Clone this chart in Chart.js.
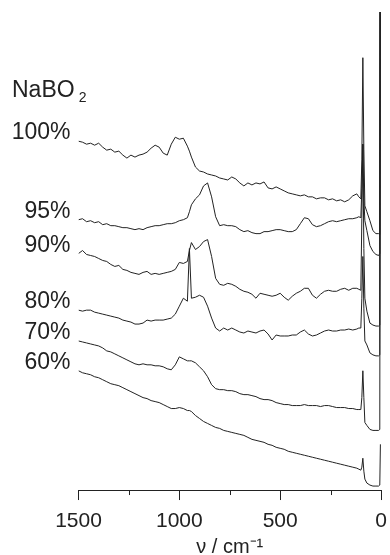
<!DOCTYPE html>
<html lang="en">

<head>
    <meta charset="UTF-8">
    <script src="https://cdn.jsdelivr.net/npm/chart.js"></script>
    <title>NaBO2 Raman</title>
    <style>
        body { margin: 0; background: #fff; }
    </style>
</head>

<body>
    <canvas id="myChart" width="390" height="555"></canvas>

    <script>
        // wavenumbers (cm-1), same grid for every spectrum
        const wavenumbers = [1500, 1480, 1460, 1440, 1420, 1400, 1380, 1360, 1340, 1320,
            1300, 1280, 1260, 1240, 1220, 1200, 1180, 1160, 1140, 1120,
            1100, 1080, 1060, 1040, 1020, 1000, 980, 960, 950, 940,
            920, 900, 880, 860, 840, 820, 800, 780, 760, 740,
            720, 700, 680, 660, 640, 620, 600, 580, 560, 540,
            520, 500, 480, 460, 440, 420, 400, 380, 360, 340,
            320, 300, 280, 260, 240, 220, 200, 180, 160, 140,
            120, 110, 100, 95, 90, 85, 80, 70, 55, 40,
            25, 12, 6, 3];

        // intensities, offset per composition (arbitrary units)
        const i100 = [358, 357, 355, 356, 354, 356, 352, 349, 350, 347,
            348, 344, 341, 344, 342, 344, 345, 347, 351, 354,
            352, 346, 344, 355, 362, 360, 361, 353, 348, 342,
            332, 328, 327, 325, 324, 323, 321, 320, 319, 322,
            320, 316, 313, 316, 314, 316, 315, 317, 311, 310,
            312, 310, 308, 306, 305, 304, 303, 304, 302, 302,
            300, 301, 301, 299, 300, 298, 299, 297, 299, 303,
            305, 302, 300, 340, 442, 350, 293, 287, 278, 268,
            265, 265, 264, 700];
        const i95 = [279, 280, 277, 278, 276, 277, 274, 275, 273, 273,
            272, 271, 271, 270, 269, 270, 269, 271, 272, 273,
            273, 274, 275, 275, 276, 278, 279, 281, 287, 294,
            300, 304, 313, 316, 302, 282, 273, 274, 273, 273,
            272, 269, 267, 268, 266, 265, 265, 267, 267, 268,
            269, 269, 268, 267, 267, 269, 275, 281, 280, 274,
            272, 273, 275, 277, 278, 277, 278, 279, 280, 280,
            281, 282, 281, 310, 355, 300, 278, 268, 253, 247,
            244, 243, 245, 700];
        const i90 = [245, 248, 244, 243, 242, 240, 238, 237, 234, 232,
            233, 229, 228, 226, 225, 224, 226, 227, 224, 225,
            224, 225, 226, 227, 229, 236, 235, 237, 248, 256,
            249, 252, 257, 259, 242, 220, 214, 213, 215, 214,
            212, 209, 207, 206, 204, 200, 205, 204, 203, 202,
            203, 205, 201, 198, 202, 205, 207, 210, 210, 203,
            200, 204, 207, 208, 207, 207, 209, 210, 208, 210,
            210, 209, 208, 280, 355, 250, 200, 187, 175, 173,
            172, 172, 173, 700];
        const i80 = [188, 187, 188, 188, 186, 185, 184, 183, 182, 181,
            180, 178, 177, 176, 174, 174, 175, 178, 177, 178,
            178, 178, 179, 180, 184, 192, 200, 197, 250, 200,
            201, 203, 201, 192, 180, 170, 167, 170, 168, 170,
            168, 166, 165, 167, 166, 165, 167, 168, 164, 158,
            163, 162, 162, 162, 163, 163, 166, 168, 164, 162,
            163, 165, 167, 168, 167, 167, 168, 168, 169, 168,
            169, 170, 170, 200, 242, 190, 157, 153, 145, 143,
            142, 142, 143, 700];
        const i70 = [157, 156, 155, 154, 153, 152, 150, 147, 146, 144,
            142, 140, 138, 136, 134, 133, 134, 133, 133, 132,
            132, 131, 129, 128, 133, 141, 139, 137, 137, 137,
            135, 131, 127, 121, 113, 109, 108, 108, 107, 107,
            106, 104, 103, 103, 102, 101, 99, 98, 98, 97,
            95, 94, 93, 93, 92, 92, 92, 93, 92, 92,
            92, 91, 92, 92, 91, 90, 90, 90, 89, 89,
            88, 88, 88, 100, 127, 100, 75, 72, 68, 67,
            67, 67, 68, 700];
        const i60 = [127, 125, 124, 123, 121, 120, 118, 116, 114, 113,
            112, 110, 108, 106, 104, 102, 100, 99, 97, 96,
            95, 93, 91, 89, 89, 90, 89, 87, 87, 86,
            82, 79, 76, 74, 72, 70, 69, 67, 66, 65,
            64, 63, 62, 60, 58, 57, 56, 55, 53, 52,
            50, 49, 48, 46, 45, 44, 43, 42, 41, 40,
            39, 38, 37, 36, 35, 34, 33, 32, 31, 30,
            29, 28, 27, 30, 39, 26, 18, 14, 12, 11,
            11, 11, 12, 53];

        const seriesLabels = ['100%', '95%', '90%', '80%', '70%', '60%'];
        const minorTicks = [1250, 750, 250];

        const fonte = '"Liberation Sans", Arial, sans-serif';
        const tinta = '#222';

        function montarDados() {
            const series = [i100, i95, i90, i80, i70, i60];
            return series.map(function (s, k) {
                return {
                    label: seriesLabels[k],
                    data: s.map(function (v, i) { return { x: wavenumbers[i], y: v }; }),
                    borderColor: tinta,
                    borderWidth: 1,
                    pointRadius: 0,
                    tension: 0
                };
            });
        }

        // composition labels left of each trace + NaBO2 heading + minor ticks
        const rotulos = {
            id: 'rotulos',
            afterDraw(chart) {
                const ctx = chart.ctx;
                const y = chart.scales.y;
                const x = chart.scales.x;
                const area = chart.chartArea;
                ctx.save();
                ctx.fillStyle = tinta;
                ctx.textBaseline = 'alphabetic';

                ctx.font = '23px ' + fonte;
                ctx.textAlign = 'left';
                ctx.fillText('NaBO', 12, 97);
                const w = ctx.measureText('NaBO').width;
                ctx.font = '14px ' + fonte;
                ctx.fillText('2', 12 + w + 4, 102);

                ctx.font = '23px ' + fonte;
                ctx.textAlign = 'right';
                chart.data.datasets.forEach(function (ds) {
                    const py = y.getPixelForValue(ds.data[0].y) - 2;
                    ctx.fillText(ds.label, 70.5, py);
                });

                ctx.strokeStyle = tinta;
                ctx.lineWidth = 1;
                minorTicks.forEach(function (v) {
                    const px = Math.round(x.getPixelForValue(v)) + 0.5;
                    ctx.beginPath();
                    ctx.moveTo(px, area.bottom);
                    ctx.lineTo(px, area.bottom + 5);
                    ctx.stroke();
                });
                ctx.restore();
            }
        };

        function plotarGrafico() {
            const config = {
                type: 'line',
                data: { datasets: montarDados() },
                options: {
                    responsive: false,
                    animation: false,
                    devicePixelRatio: 1,
                    layout: {
                        padding: { left: 78.5, right: 9, top: 12, bottom: 0 }
                    },
                    plugins: {
                        legend: { display: false },
                        tooltip: { enabled: false }
                    },
                    scales: {
                        x: {
                            type: 'linear',
                            min: 0,
                            max: 1500,
                            reverse: true,
                            border: { display: true, color: tinta, width: 1 },
                            grid: {
                                drawOnChartArea: false,
                                drawTicks: true,
                                tickLength: 10,
                                color: tinta
                            },
                            ticks: {
                                stepSize: 500,
                                color: tinta,
                                padding: 3,
                                maxRotation: 0,
                                font: { family: fonte, size: 21, lineHeight: 1.76 },
                                callback: function (v) { return String(v); }
                            },
                            title: {
                                display: true,
                                text: 'ν / cm⁻¹',
                                color: tinta,
                                padding: { top: 0, bottom: 4 },
                                font: { family: fonte, size: 20, lineHeight: 0.4 }
                            }
                        },
                        y: {
                            display: false,
                            min: 7,
                            max: 488
                        }
                    }
                },
                plugins: [rotulos]
            };

            let ctx = document.getElementById('myChart').getContext('2d');
            let myChart = new Chart(ctx, config);
        }

        plotarGrafico();
    </script>
</body>

</html>
